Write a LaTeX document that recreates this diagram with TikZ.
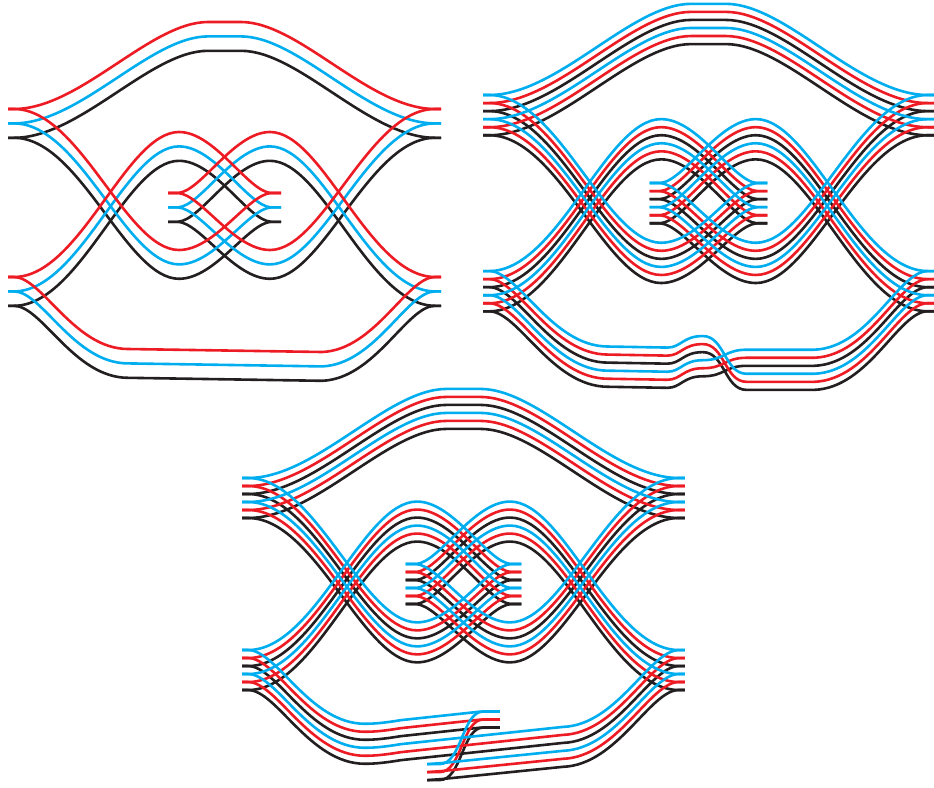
\documentclass[tikz,border=0pt]{standalone}
\definecolor{wred}{HTML}{ED1C24}
\definecolor{wblue}{HTML}{00AEEF}
\definecolor{wblack}{HTML}{231F20}
\newcommand{\weave}{
\draw (0,0)--(6,0) .. controls (72,0) and (142,-87) .. (200,-87) -- (233,-87) .. controls (291,-87) and (361,0) .. (427,0) -- (433,0);
\foreach \sd/\fl in {0/1,433/-1} {
\draw[shift={(\sd,0)},xscale=\fl] (0,0)--(6,0) .. controls (72,0) and (118,141) .. (171,141) .. controls (207,141) and (240,85.5) .. (263,84) -- (273,84);
\draw[shift={(\sd,0)},xscale=\fl] (0,168)--(6,168) .. controls (72,168) and (118,23) .. (171,23) .. controls (207,23) and (240,82.5) .. (263,84) -- (273,84);
}
}
\newcommand{\leftfall}{(0,168)--(6,168) .. controls (34,168) and (66,240) .. (120,240)}
\newcommand{\rightrise}[1]{.. controls +(53,-2) and (399,168+#1) .. (427,168+#1) -- (433,168+#1)}
\begin{document}
\begin{tikzpicture}[x=1pt,y=-1pt,wire/.style={line width=2.6pt,line join=round}]
\useasboundingbox (0,0) rectangle (934,787);
\foreach \off/\col in {28.8/wblack,14.4/wblue,0/wred} {
\begin{scope}[shift={(8,109+\off)},wire,color=\col]
\weave
\draw \leftfall -- (314,243) \rightrise{0};
\end{scope}
}
\foreach \k/\col/\d in {5/wblack/-23,2/wblack/23,4/wred/-23,1/wred/23,3/wblue/-23,0/wblue/23} {
\begin{scope}[shift={(483,95+8.05*\k)},xscale=1.0416,yscale=1.048,wire,color=\col]
\weave
\draw \leftfall -- (177,241) .. controls (190,241) and (192,230) .. (211,230) .. controls (232,230) and (232,243+\d) .. (253,243+\d) -- (318,243+\d) \rightrise{\d};
\end{scope}
}
\foreach \k/\col/\d in {5/wblack/-23.4,2/wblack/23.4,4/wred/-23.4,1/wred/23.4,3/wblue/-23.4,0/wblue/23.4} {
\begin{scope}[shift={(242,478+8*\k)},xscale=1.023,yscale=1.024,wire,color=\col]
\weave
\ifnum\k<3
\draw \leftfall .. controls (130,240) and (140,239) .. (155,236.5) -- (225,229) .. controls (230,228.5) and (233,228) .. (238,228) -- (252,228);
\draw (252,228) -- (236,228) .. controls (215,228) and (215,256+\d) .. (193,256+\d) -- (181,256+\d);
\draw (181,256+\d) -- (195,255+\d) -- (314,243+\d) \rightrise{\d};
\else
\draw \leftfall .. controls (130,240) and (140,239) .. (155,236.5) -- (314,243+\d) \rightrise{\d};
\fi
\end{scope}
}
\end{tikzpicture}
\end{document}
